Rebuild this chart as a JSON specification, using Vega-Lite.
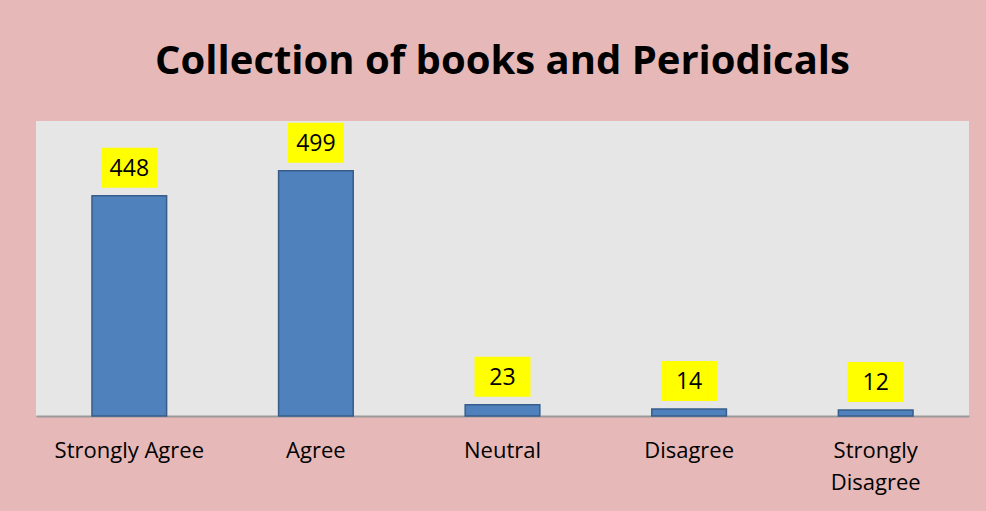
{
  "$schema": "https://vega.github.io/schema/vega-lite/v6.json",
  "width": 933,
  "height": 295,
  "autosize": "none",
  "padding": {"left": 36, "top": 121, "right": 17, "bottom": 95},
  "background": "#E6B8B7",
  "title": {
    "text": "Collection of books and Periodicals",
    "font": "Open Sans",
    "fontSize": 40,
    "fontWeight": "bold",
    "color": "#000000",
    "anchor": "middle",
    "offset": 39
  },
  "config": {
    "view": {"fill": "#E6E6E6", "stroke": null}
  },
  "data": {
    "values": [
      {"category": "Strongly Agree", "count": 448},
      {"category": "Agree", "count": 499},
      {"category": "Neutral", "count": 23},
      {"category": "Disagree", "count": 14},
      {"category": "Strongly Disagree", "count": 12}
    ]
  },
  "encoding": {
    "x": {
      "field": "category",
      "type": "nominal",
      "sort": null,
      "scale": {"paddingInner": 0.6, "paddingOuter": 0.3},
      "axis": {
        "title": null,
        "labelAngle": 0,
        "labelFont": "Open Sans",
        "labelFontSize": 22,
        "labelColor": "#000000",
        "labelPadding": 24,
        "labelLimit": 0,
        "labelOverlap": false,
        "labelLineHeight": 32,
        "labelBaseline": "top",
        "labelExpr": "datum.value == 'Strongly Disagree' ? ['Strongly', 'Disagree'] : datum.value",
        "ticks": false,
        "domainColor": "#9A9A9A",
        "domainWidth": 2
      }
    },
    "y": {
      "field": "count",
      "type": "quantitative",
      "scale": {"domain": [0, 600], "nice": false},
      "axis": null
    }
  },
  "layer": [
    {
      "mark": {"type": "bar", "fill": "#4F81BD", "stroke": "#385D8A", "strokeWidth": 1.5}
    },
    {
      "mark": {
        "type": "point",
        "shape": "M-1.4,-1L1.4,-1L1.4,1L-1.4,1Z",
        "size": 1600,
        "filled": true,
        "fill": "#FFFF00",
        "opacity": 1,
        "strokeWidth": 0,
        "yOffset": -28
      }
    },
    {
      "mark": {
        "type": "text",
        "font": "Open Sans",
        "fontSize": 23,
        "color": "#000000",
        "baseline": "middle",
        "dy": -27
      },
      "encoding": {"text": {"field": "count", "type": "quantitative"}}
    }
  ]
}
